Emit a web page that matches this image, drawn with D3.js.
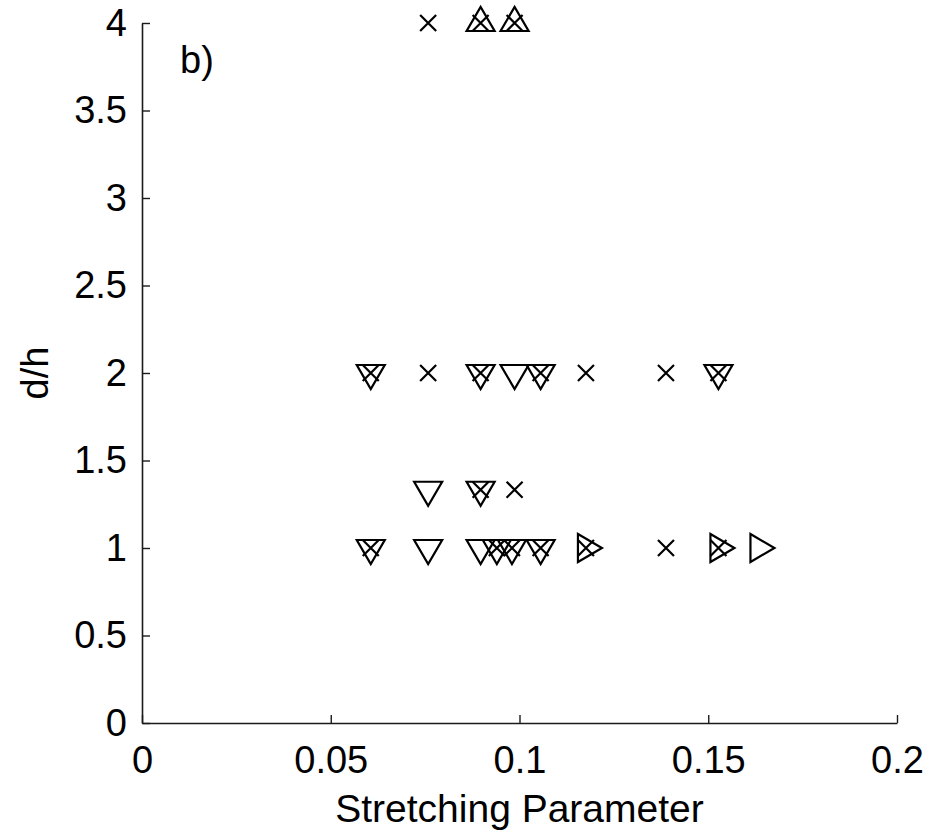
<!DOCTYPE html>
<html>
<head>
<meta charset="utf-8">
<script src="https://cdn.jsdelivr.net/npm/d3@7"></script>
<style>
  html, body { margin: 0; padding: 0; background: #fff; }
  svg { display: block; }
  text { font-family: "Liberation Sans", Arial, Helvetica, sans-serif; fill: #000; }
</style>
</head>
<body>
<svg id="chart" width="927" height="830"></svg>
<script>
// ---- data ----
const xTicks = [0, 0.05, 0.1, 0.15, 0.2];
const xTickLabels = ["0", "0.05", "0.1", "0.15", "0.2"];
const yTicks = [0, 0.5, 1, 1.5, 2, 2.5, 3, 3.5, 4];
const yTickLabels = ["0", "0.5", "1", "1.5", "2", "2.5", "3", "3.5", "4"];

const crossX = [0.0758, 0.0897, 0.0987,
                0.0606, 0.0758, 0.0897, 0.1056, 0.1176, 0.1388, 0.1527,
                0.0897, 0.0987,
                0.0606, 0.0940, 0.0980, 0.1056, 0.1176, 0.1388, 0.1527];
const crossY = [4, 4, 4,
                2, 2, 2, 2, 2, 2, 2,
                1.333, 1.333,
                1, 1, 1, 1, 1, 1, 1];

const downX = [0.0606, 0.0897, 0.0987, 0.1056, 0.1527,
               0.0758, 0.0897,
               0.0606, 0.0758, 0.0897, 0.0940, 0.0980, 0.1056];
const downY = [2, 2, 2, 2, 2,
               1.333, 1.333,
               1, 1, 1, 1, 1, 1];

const upX = [0.0897, 0.0987];
const upY = [4, 4];

const rightX = [0.1176, 0.1527, 0.1633];
const rightY = [1, 1, 1];

const xLabel = "Stretching Parameter";
const yLabel = "d/h";
const panelLabel = "b)";

// ---- chart ----
const svg = d3.select("#chart");
const x = d3.scaleLinear().domain([0, 0.2]).range([142, 897]);
const y = d3.scaleLinear().domain([0, 4]).range([723, 23]);
const FS = 38;

const xAxis = d3.axisBottom(x).tickValues(xTicks)
  .tickFormat((d, i) => xTickLabels[i]).tickSizeInner(-8).tickSizeOuter(0).tickPadding(23);
const yAxis = d3.axisLeft(y).tickValues(yTicks)
  .tickFormat((d, i) => yTickLabels[i]).tickSizeInner(-8).tickSizeOuter(0).tickPadding(15);

const gx = svg.append("g").attr("transform", `translate(0,${y(0)})`).call(xAxis);
const gy = svg.append("g").attr("transform", `translate(${x(0)},0)`).call(yAxis);
[gx, gy].forEach(g => {
  g.select(".domain").attr("stroke", "#1a1a1a").attr("stroke-width", 1.6);
  g.selectAll(".tick line").attr("stroke", "#1a1a1a").attr("stroke-width", 1.4);
  g.selectAll(".tick text").attr("font-size", FS).attr("fill", "#000")
    .attr("font-family", '"Liberation Sans", Arial, sans-serif');
});

// axis labels
svg.append("text").attr("x", (x(0) + x(0.2)) / 2).attr("y", 822)
  .attr("text-anchor", "middle").attr("font-size", 39).text(xLabel);
svg.append("text")
  .attr("transform", `translate(48,${y(2)}) rotate(-90)`)
  .attr("text-anchor", "middle").attr("font-size", FS).text(yLabel);
svg.append("text").attr("x", 180).attr("y", 73).attr("font-size", FS).text(panelLabel);

// markers
const plot = svg.append("g").attr("fill", "none").attr("stroke", "#000")
  .attr("stroke-width", 2.2).attr("stroke-linejoin", "miter");

const B = 28, H = 24; // triangle base & height (centroid at data point)
function triDown() {
  return `M${-B/2},${-H/3}L${B/2},${-H/3}L0,${2*H/3}Z`;
}
function triUp() {
  return `M${-B/2},${H/3}L${B/2},${H/3}L0,${-2*H/3}Z`;
}
function triRight() {
  return `M${-H/3},${-B/2}L${-H/3},${B/2}L${2*H/3},0Z`;
}
const C = 8;
function cross() {
  return `M${-C},${-C}L${C},${C}M${-C},${C}L${C},${-C}`;
}

function drawSeries(xs, ys, pathFn, cls) {
  plot.selectAll("path." + cls)
    .data(xs.map((v, i) => [v, ys[i]]))
    .enter().append("path")
    .attr("class", cls)
    .attr("transform", d => `translate(${x(d[0])},${y(d[1])})`)
    .attr("d", pathFn);
}

drawSeries(downX, downY, triDown, "down");
drawSeries(upX, upY, triUp, "up");
drawSeries(rightX, rightY, triRight, "right");
drawSeries(crossX, crossY, cross, "cross");
</script>
</body>
</html>
